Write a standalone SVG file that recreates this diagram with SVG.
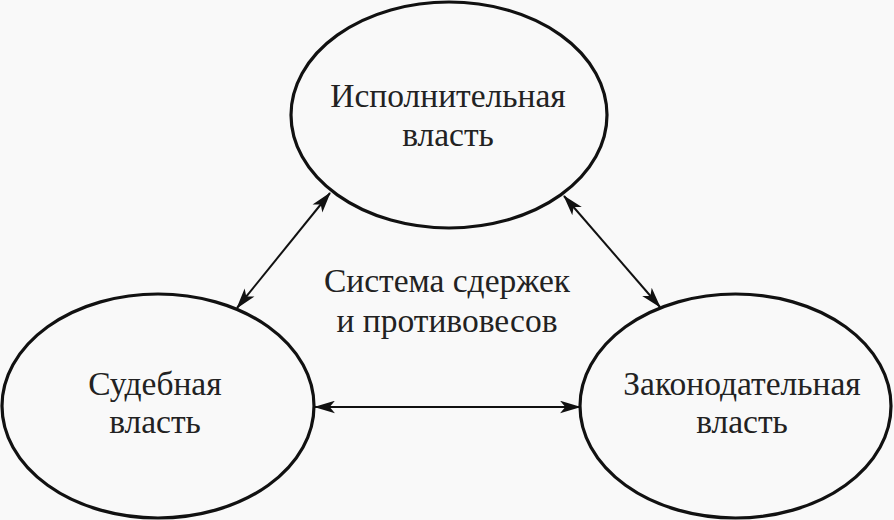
<svg xmlns="http://www.w3.org/2000/svg" width="894" height="520" viewBox="0 0 894 520">
<style>
.node ellipse{fill:none;stroke:#111;stroke-width:3.2}
text{font-family:"Liberation Serif","Times New Roman",serif;font-size:33.5px;fill:#222;text-anchor:middle}
.conn line{stroke:#111;stroke-width:2;marker-start:url(#ah);marker-end:url(#ah)}
</style>
<defs>
<marker id="ah" viewBox="0 0 20 12" refX="19" refY="6" markerWidth="21" markerHeight="13" markerUnits="userSpaceOnUse" orient="auto-start-reverse">
<path d="M0,0 L20,6 L0,12 L5,6 Z" fill="#111"/>
</marker>
</defs>
<rect width="894" height="520" fill="#f9f9f9"/>
<g id="exec" class="node">
<ellipse cx="449" cy="115" rx="158" ry="113"/>
<text x="448" y="107">Исполнительная</text>
<text x="448" y="146">власть</text>
</g>
<g id="judicial" class="node">
<ellipse cx="158" cy="406" rx="156" ry="112"/>
<text x="155" y="395">Судебная</text>
<text x="155" y="433">власть</text>
</g>
<g id="legislative" class="node">
<ellipse cx="735.5" cy="406" rx="155.5" ry="112"/>
<text x="742" y="395">Законодательная</text>
<text x="742" y="433">власть</text>
</g>
<g id="center-label">
<text x="447" y="292">Система сдержек</text>
<text x="447" y="332">и противовесов</text>
</g>
<g id="connectors" class="conn">
<line x1="237" y1="308" x2="330" y2="193"/>
<line x1="564" y1="196" x2="660" y2="307"/>
<line x1="315" y1="407" x2="580" y2="407"/>
</g>
</svg>
